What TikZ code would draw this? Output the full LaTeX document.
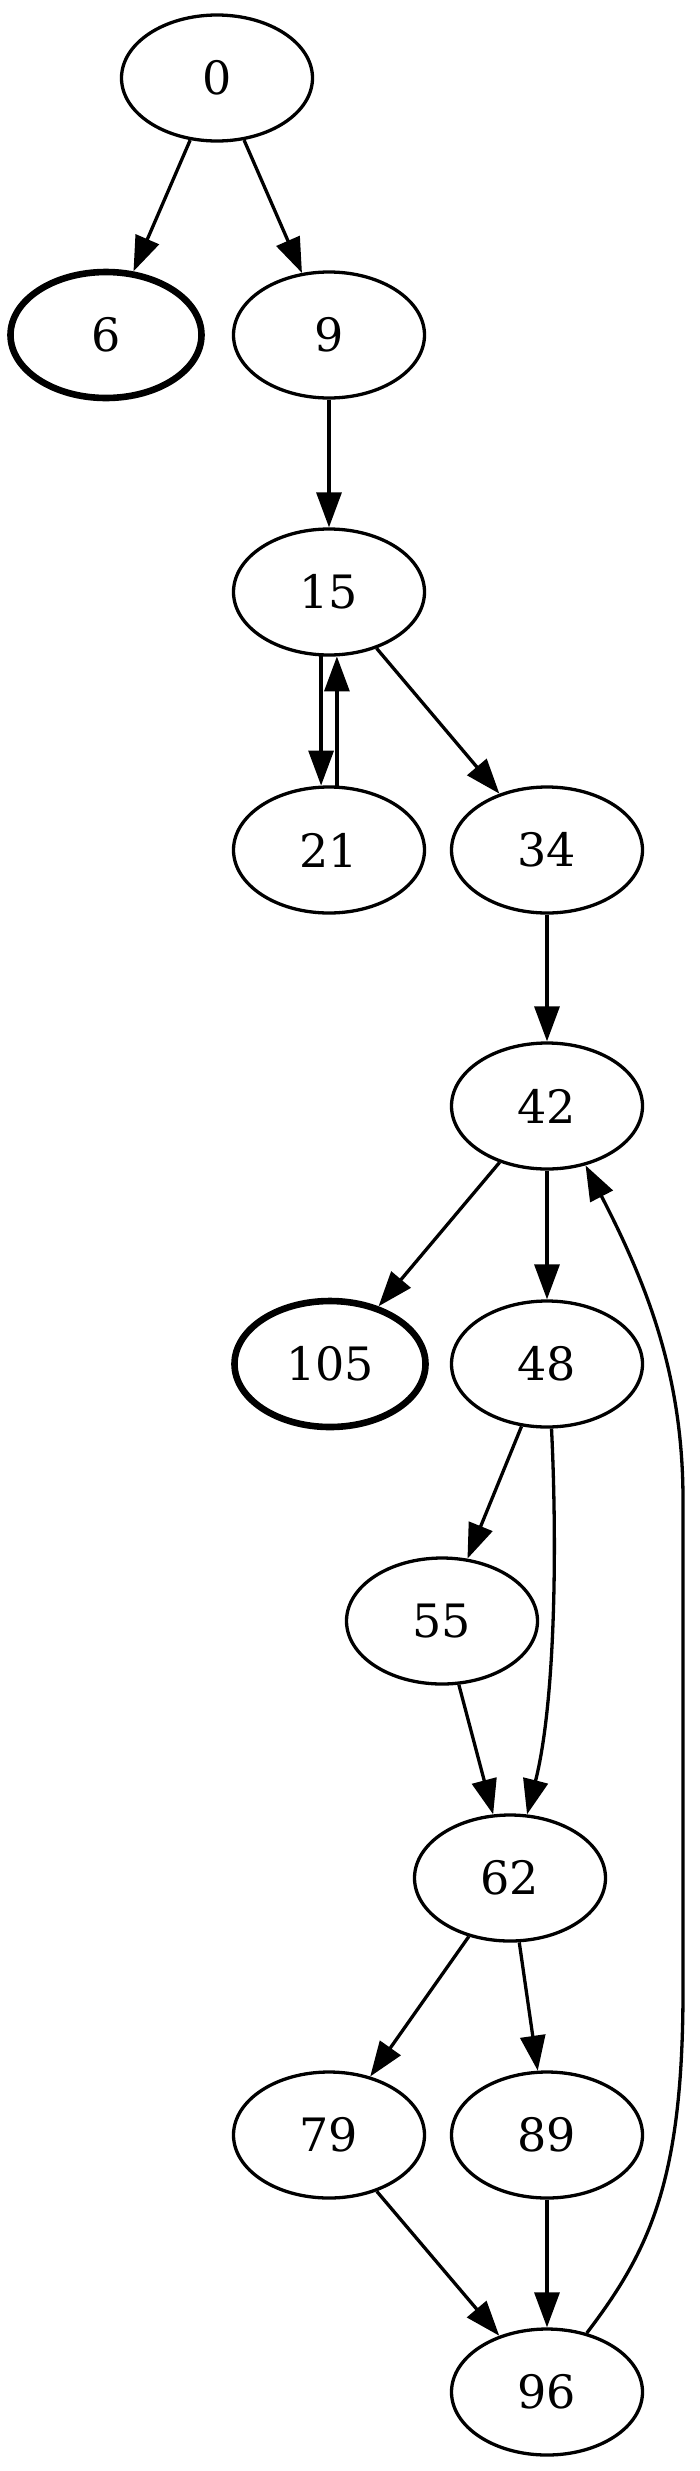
\documentclass[tikz,border=0pt]{standalone}
\usepackage{fontspec}
\setmainfont{DejaVu Serif}
\usetikzlibrary{arrows.meta,shapes.geometric}

\begin{document}
\begin{tikzpicture}[
    x=1pt, y=-1pt,
    vertex/.style={draw, ellipse, line width=3.3pt, minimum width=191pt, minimum height=126pt, inner sep=0pt, font=\fontsize{46}{55}\selectfont},
    final/.style={vertex, line width=6.6pt},
    arc/.style={line width=3.3pt, -{Triangle[length=35pt, width=25pt]}}
]
\useasboundingbox (0,0) rectangle (700,2471);

% Knoten
\node[vertex] (n0) at (217,78) {0};
\node[final] (n6) at (106,335) {6};
\node[vertex] (n9) at (329,335) {9};
\node[vertex] (n15) at (329,592) {15};
\node[vertex] (n21) at (329,850) {21};
\node[vertex] (n34) at (547,850) {34};
\node[vertex] (n42) at (547,1106) {42};
\node[final] (n105) at (330,1364) {105};
\node[vertex] (n48) at (547,1364) {48};
\node[vertex] (n55) at (442,1621) {55};
\node[vertex] (n62) at (510,1878) {62};
\node[vertex] (n79) at (329,2135) {79};
\node[vertex] (n89) at (547,2135) {89};
\node[vertex] (n96) at (547,2392) {96};

% Kanten
\draw[arc] (n0) -- (n6);
\draw[arc] (n0) -- (n9);
\draw[arc] (n9) -- (n15);
\draw[arc] (n15.-97) -- (n21.97);
\draw[arc] (n21.83) -- (n15.-83);
\draw[arc] (n15) -- (n34);
\draw[arc] (n34) -- (n42);
\draw[arc] (n42) -- (n105);
\draw[arc] (n42) -- (n48);
\draw[arc] (n48) -- (n55);
\draw[arc] (n48.-86) .. controls (557,1540) and (556,1700) .. (n62.75);
\draw[arc] (n55) -- (n62);
\draw[arc] (n62) -- (n79);
\draw[arc] (n62) -- (n89);
\draw[arc] (n79) -- (n96);
\draw[arc] (n89) -- (n96);
\draw[arc] (n96.56) .. controls (650,2250) and (683,2180) .. (683,1990)
    -- (683,1500) .. controls (683,1380) and (650,1290) .. (n42.-57);

\end{tikzpicture}
\end{document}
